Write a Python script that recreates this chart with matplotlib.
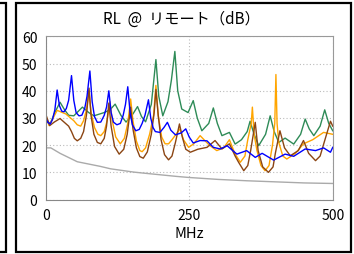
" return loss at the remote end, 0-500 MHz "
import matplotlib.pyplot as plt
from matplotlib.patches import Rectangle

plt.rcParams['font.family'] = ['Noto Sans CJK JP', 'DejaVu Sans']

# (MHz, dB)
blue_f = [0, 4, 8, 12, 16, 20, 24, 28, 32, 36, 40, 45, 49, 53, 58, 63, 68, 72,
          77, 81, 85, 90, 96, 102, 106, 110, 114, 118, 124, 130, 135, 139, 143,
          147, 151, 157, 163, 168, 173, 179, 183, 187, 191, 199, 206, 212, 218,
          226, 236, 244, 250, 257, 269, 281, 292, 304, 316, 333, 350, 365, 377,
          397, 417, 432, 452, 470, 484, 496, 500]
blue_db = [30, 28.3, 27.8, 29.5, 33, 40.3, 34.5, 32.5, 32.3, 33.5, 36.5, 45.6,
           36.5, 32, 30.8, 31, 33.5, 38, 47.3, 36, 30.5, 28.4, 28.5, 31, 34,
           40, 32, 28.5, 27.5, 28, 31, 35, 41.5, 32, 27.5, 25.3, 25.8, 28, 31,
           36.7, 30, 26.5, 25, 24.7, 26.5, 28.4, 25.5, 23.8, 24.5, 26, 23,
           20.8, 21.7, 21.6, 19.2, 18.6, 19.8, 16.7, 18, 15.5, 17, 14.5, 16.7,
           15.9, 18.6, 18, 19, 17.4, 19.2]

green_f = [0, 8, 16, 25, 33, 40, 49, 64, 75, 84, 102, 112, 121, 131, 140, 152,
           160, 167, 174, 184, 192, 197, 204, 213, 219, 225, 230, 237, 248, 257,
           264, 272, 284, 292, 299, 307, 320, 330, 341, 351, 356, 363, 371, 383,
           391, 398, 406, 417, 432, 444, 452, 459, 467, 478, 486, 493, 500]
green_db = [29, 28, 32, 35.8, 33, 31, 30.8, 34, 32, 30.8, 32, 33, 35.1, 31,
            28.5, 31.5, 34.2, 30.5, 28.6, 35, 51.5, 38, 30.8, 36, 44, 54.5, 40,
            33.3, 32, 36.4, 30, 25.3, 28, 33.7, 28, 23.5, 24.7, 20.4, 22, 25,
            28.8, 24, 19.8, 24, 30.8, 25, 21, 22.6, 20.4, 24, 29.6, 26, 23.5,
            27, 33, 28, 25.3]

orange_f = [0, 6, 13, 20, 35, 49, 55, 61, 66, 71, 75.5, 79, 85, 91, 96, 102,
            107, 112, 116, 122, 130, 137, 143, 148, 152, 158, 164, 168, 174,
            181, 188, 192, 196, 202, 208, 214, 220, 227, 234, 240, 249, 258,
            269, 285, 298, 310, 320, 330, 339, 347, 352, 358, 360, 363, 368,
            375, 382, 389, 395, 399, 401, 403, 406, 413, 420, 435, 449, 465,
            484, 500]
orange_db = [30.8, 27.2, 30, 32.8, 31.5, 29, 27.5, 27, 29, 33, 40, 32, 26.5,
             24, 23.5, 25, 29, 36, 29, 23, 20.5, 22.5, 28, 37, 29, 21.5, 18,
             17.6, 19, 24, 31, 42, 31, 23, 20.5, 20.5, 22, 24, 26, 22, 19.2,
             20.5, 23.5, 20, 18, 19, 22, 16.7, 13.7, 16, 22, 28, 34, 24, 18,
             12.5, 10.6, 12.5, 20, 28, 46, 28, 21, 16, 14.9, 17, 20.5, 22, 24.7,
             24]

brown_f = [0, 7, 15, 25, 40, 45, 50, 55, 61, 66, 71, 75.5, 79, 84, 90, 96, 102,
           106, 110, 114, 120, 128, 136, 142, 148, 152, 158, 164, 170, 177, 184,
           189, 192, 196, 201, 207, 214, 220, 226, 233, 238, 244, 252, 265, 281,
           295, 307, 320, 330, 336, 345, 352, 357, 365, 370, 378, 388, 396, 400,
           408, 416, 426, 440, 449, 458, 470, 478, 485, 496, 500]
brown_db = [31.5, 27.2, 28.5, 29.8, 27, 25, 22.5, 21.6, 22.5, 25, 31, 41, 31,
            24, 21, 20.5, 22.5, 27, 35.5, 27, 19.5, 16.7, 18.5, 24, 34, 26, 19,
            15.8, 15.2, 17.5, 24, 32, 40.5, 31, 22, 16.5, 14.6, 16, 21, 27.8,
            23, 18.5, 17.4, 18.5, 19.2, 21.7, 18.6, 20.5, 16, 13.7, 10.6, 12.5,
            18, 28.4, 18, 12, 10, 12, 17, 25.3, 19, 16.1, 18, 21.7, 17, 14.3,
            16, 21, 28.8, 27]

gray_f = [0, 9, 25, 55, 95, 113, 153, 171, 228, 250, 300, 350, 400, 450, 500]
gray_db = [19, 19, 17, 13.9, 12.2, 11.3, 10.1, 9.7, 8.5, 8.1, 7.4, 6.9, 6.5,
           6.1, 5.9]

yticks = [0, 10, 20, 30, 40, 50, 60]
xticks = [0, 250, 500]

fig = plt.figure(figsize=(3.54, 2.55), dpi=100)

# panel frames (the one on the left belongs to the neighbouring chart)
fig.patches.append(Rectangle((0.0452, 0.0078), 0.9463, 0.976, fill=False,
                             lw=1.6, ec='black', transform=fig.transFigure))
fig.patches.append(Rectangle((-0.5, 0.0078), 0.517, 0.976, fill=False,
                             lw=1.6, ec='black', transform=fig.transFigure))

ax = fig.add_axes([0.129, 0.2137, 0.811, 0.6393])
ax.plot(gray_f, gray_db, color='#aaaaaa', lw=1.0)
ax.plot(green_f, green_db, color='#2e8b57', lw=1.0)
ax.plot(orange_f, orange_db, color='#ffa500', lw=1.0)
ax.plot(brown_f, brown_db, color='#8b4513', lw=1.0)
ax.plot(blue_f, blue_db, color='#0000ff', lw=1.0)

ax.set_xlim(0, 500)
ax.set_ylim(0, 60)
ax.set_xticks(xticks)
ax.set_yticks(yticks)
ax.tick_params(length=0, labelsize=10, pad=6)
ax.grid(True, ls=(0, (1, 2)), color='#bbbbbb', lw=0.8)
for s in ax.spines.values():
    s.set_color('#999999')
    s.set_linewidth(0.8)
ax.spines['left'].set_color('#888888')
ax.spines['bottom'].set_color('#888888')
ax.set_xlabel("MHz", fontsize=10.5, labelpad=3)
fig.text(0.513, 0.925, "RL  @  リモート（dB）", ha='center', va='center',
         fontsize=11)

fig.savefig("out.png", dpi=100)
